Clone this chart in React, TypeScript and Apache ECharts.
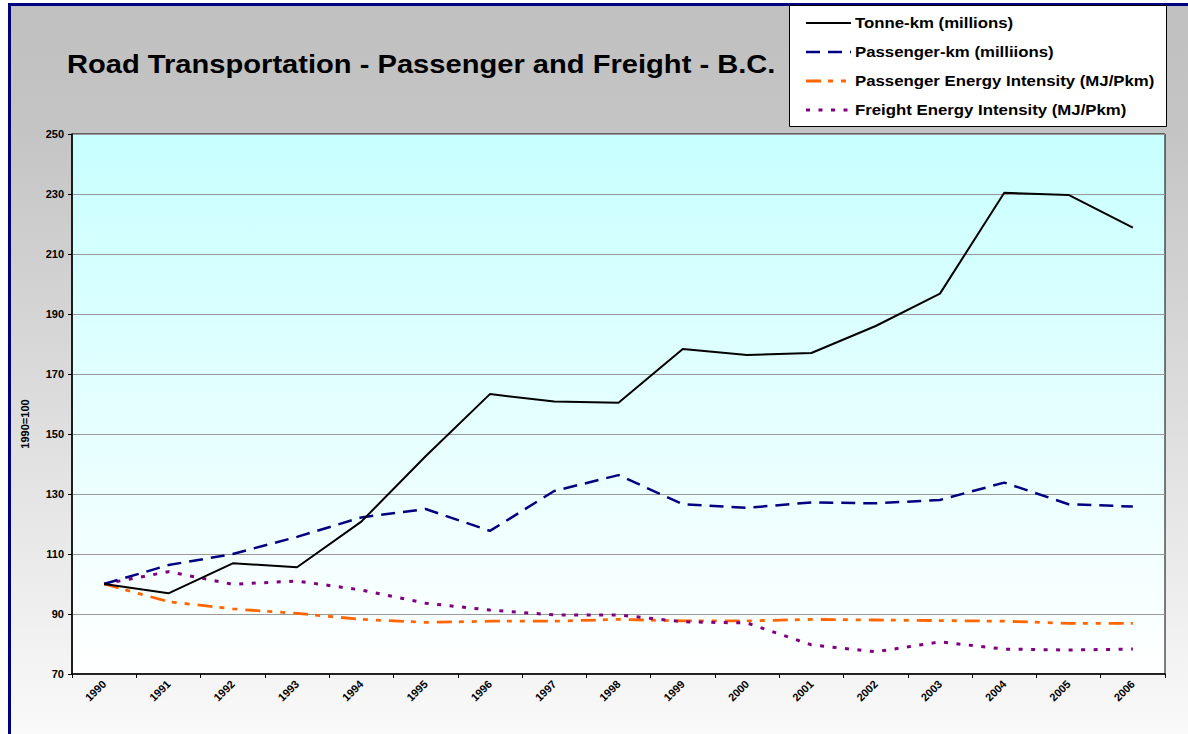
import React, { useEffect, useRef } from "react";
import * as echarts from "echarts";

const years = ["1990","1991","1992","1993","1994","1995","1996","1997","1998","1999","2000","2001","2002","2003","2004","2005","2006"];
const tonneKm = [100, 96.9, 106.9, 105.6, 120.8, 142.6, 163.3, 160.8, 160.4, 178.3, 176.3, 177, 186, 196.8, 230.4, 229.7, 218.8];
const passengerKm = [100, 106.3, 110, 115.7, 122.2, 125, 117.7, 131, 136.3, 126.6, 125.4, 127.2, 126.9, 128, 133.8, 126.6, 125.8];
const passEnergy = [100, 94.1, 91.7, 90.2, 88.2, 87.2, 87.6, 87.6, 88.2, 87.7, 87.7, 88.2, 88, 87.8, 87.6, 86.9, 86.9];
const freightEnergy = [100, 104.1, 99.9, 101, 98, 93.6, 91.3, 89.7, 89.7, 87.4, 87.0, 79.7, 77.4, 80.7, 78.3, 78, 78.3];
const seriesNames = [
  "Tonne-km (millions)",
  "Passenger-km (milliions)",
  "Passenger Energy Intensity (MJ/Pkm)",
  "Freight Energy Intensity (MJ/Pkm)",
];
const seriesColors = ["#000000", "#000080", "#ff6600", "#800080"];
const seriesWidths = [2, 2.5, 2.8, 3];
const seriesDashes: (number[] | null)[] = [null, [14, 8], [15, 7, 5, 8, 5, 8], [4, 8.5]];
const titleText = "Road Transportation - Passenger and Freight - B.C.";
const yName = "1990=100";

const FONT = "'Liberation Sans', Arial, sans-serif";

export default function App() {
  const ref = useRef<HTMLDivElement>(null);
  useEffect(() => {
    if (!ref.current) return;
    const chart = echarts.init(ref.current, undefined, { renderer: "svg" });

    const legendRows = [23, 52, 81, 110];
    const legendGraphics: any[] = [
      {
        type: "rect",
        shape: { x: 789.5, y: 5.5, width: 377, height: 121 },
        style: { fill: "#ffffff", stroke: "#000000", lineWidth: 1 },
        z: 10,
      },
    ];
    seriesNames.forEach((name, i) => {
      legendGraphics.push({
        type: "line",
        shape: { x1: 806, y1: legendRows[i], x2: 851, y2: legendRows[i] },
        style: {
          stroke: seriesColors[i],
          lineWidth: seriesWidths[i],
          lineDash: seriesDashes[i] || undefined,
        },
        z: 11,
      });
      legendGraphics.push({
        type: "text",
        x: 855,
        y: legendRows[i],
        scaleX: 1.12,
        style: {
          text: name,
          fontFamily: FONT,
          fontSize: 15,
          fontWeight: "bold",
          fill: "#000",
          align: "left",
          verticalAlign: "middle",
        },
        z: 11,
      });
    });

    chart.setOption({
      animation: false,
      backgroundColor: "transparent",
      textStyle: { fontFamily: FONT },
      grid: {
        left: 72,
        top: 134,
        right: 23,
        bottom: 60,
        show: true,
        borderColor: "#000",
        borderWidth: 1,
        backgroundColor: {
          type: "linear", x: 0, y: 0, x2: 0, y2: 1,
          colorStops: [
            { offset: 0, color: "#c8ffff" },
            { offset: 1, color: "#ffffff" },
          ],
        },
      },
      graphic: [
        {
          type: "text",
          x: 67,
          y: 64,
          scaleX: 1.12,
          style: {
            text: titleText,
            fontFamily: FONT,
            fontSize: 26,
            fontWeight: "bold",
            fill: "#000",
            align: "left",
            verticalAlign: "middle",
          },
        },
        {
          type: "text",
          x: 25,
          y: 424,
          rotation: Math.PI / 2,
          style: {
            text: yName,
            fontFamily: FONT,
            fontSize: 11,
            fontWeight: "bold",
            fill: "#000",
            align: "center",
            verticalAlign: "middle",
          },
        },
        ...legendGraphics,
      ],
      xAxis: {
        type: "category",
        data: years,
        boundaryGap: true,
        axisLine: { lineStyle: { color: "#000", width: 1.5 } },
        axisTick: { show: true, interval: 0, length: 4, lineStyle: { color: "#000" } },
        axisLabel: {
          interval: 0,
          rotate: 45,
          margin: 8,
          fontFamily: FONT,
          fontSize: 11,
          fontWeight: "bold",
          color: "#000",
        },
        splitLine: { show: false },
      },
      yAxis: {
        type: "value",
        min: 70,
        max: 250,
        interval: 20,
        axisLine: { show: true, lineStyle: { color: "#000", width: 1.5 } },
        axisTick: { show: true, length: 4, lineStyle: { color: "#000" } },
        axisLabel: {
          margin: 8,
          fontFamily: FONT,
          fontSize: 11,
          fontWeight: "bold",
          color: "#000",
        },
        splitLine: { show: true, lineStyle: { color: "#999999", width: 1 } },
      },
      series: [
        { data: tonneKm, z: 5 },
        { data: passengerKm, z: 4 },
        { data: passEnergy, z: 3 },
        { data: freightEnergy, z: 3 },
      ].map((s, i) => ({
        name: seriesNames[i],
        type: "line",
        data: s.data,
        symbol: "none",
        lineStyle: {
          color: seriesColors[i],
          width: seriesWidths[i],
          type: seriesDashes[i] || "solid",
        },
        itemStyle: { color: seriesColors[i] },
        z: s.z,
      })),
    });
    return () => chart.dispose();
  }, []);

  return (
    <div style={{ position: "fixed", left: 0, top: 0, width: 1188, height: 734, background: "#ffffff", overflow: "hidden" }}>
      <div
        style={{
          position: "absolute",
          left: 8,
          top: 3,
          width: 1300,
          height: 800,
          border: "3px solid #000080",
          boxSizing: "border-box",
          background: "linear-gradient(to bottom, #c0c0c0 0px, #c4c4c4 120px, #ffffff 790px)",
        }}
      />
      <div ref={ref} style={{ position: "absolute", left: 0, top: 0, width: 1188, height: 734 }} />
    </div>
  );
}
